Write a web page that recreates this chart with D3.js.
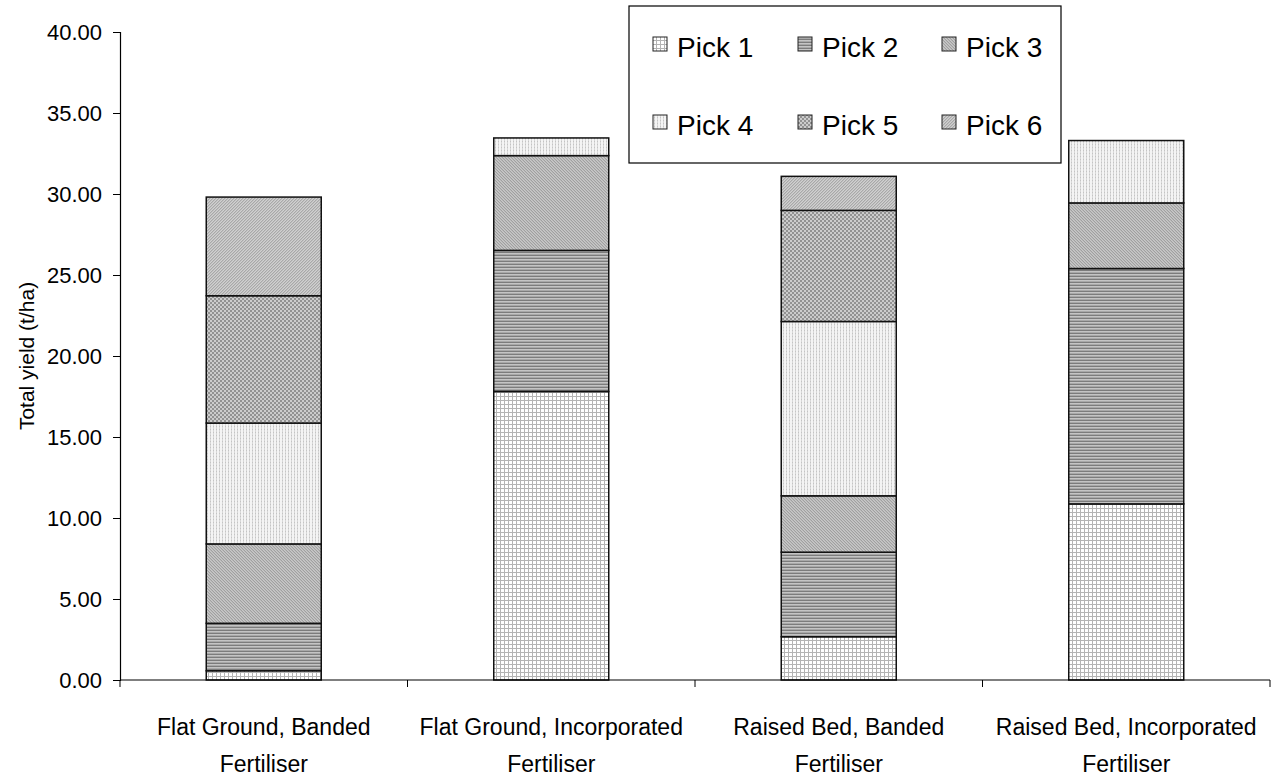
<!DOCTYPE html>
<html>
<head>
<meta charset="utf-8">
<script src="https://cdn.jsdelivr.net/npm/d3@7"></script>
<style>
  body { margin: 0; background: #fff; }
  svg { display: block; }
  text { font-family: "Liberation Sans", Arial, sans-serif; fill: #000; }
</style>
</head>
<body>
<svg id="chart" width="1275" height="776"></svg>
<script>
const categories = [
  ["Flat Ground, Banded", "Fertiliser"],
  ["Flat Ground, Incorporated", "Fertiliser"],
  ["Raised Bed, Banded", "Fertiliser"],
  ["Raised Bed, Incorporated", "Fertiliser"]
];
const seriesNames = ["Pick 1", "Pick 2", "Pick 3", "Pick 4", "Pick 5", "Pick 6"];
const pick1 = [0.57, 17.81, 2.67, 10.87];
const pick2 = [2.93, 8.71, 5.22, 14.53];
const pick3 = [4.90, 5.85, 3.48, 4.05];
const pick4 = [7.46, 1.09, 10.76, 3.85];
const pick5 = [7.86, 0, 6.86, 0];
const pick6 = [6.09, 0, 2.10, 0];
const yTicks = [0, 5, 10, 15, 20, 25, 30, 35, 40];
const yTitle = "Total yield (t/ha)";

const seriesValues = [pick1, pick2, pick3, pick4, pick5, pick6];
const catKeys = categories.map(c => c.join(" "));
const rows = catKeys.map((k, i) => {
  const r = { key: k };
  seriesNames.forEach((s, j) => r[s] = seriesValues[j][i]);
  return r;
});

const svg = d3.select("#chart");
const defs = svg.append("defs");

function pat(id, w, h, bg, draw) {
  const p = defs.append("pattern").attr("id", id).attr("patternUnits", "userSpaceOnUse")
    .attr("width", w).attr("height", h);
  p.append("rect").attr("width", w).attr("height", h).attr("fill", bg);
  draw(p);
}
function px(p, pts, c) {
  pts.forEach(([a, b]) => p.append("rect").attr("x", a).attr("y", b).attr("width", 1).attr("height", 1).attr("fill", c));
}
// Pick 1: fine grid
pat("p0", 4, 4, "#ffffff", p => {
  p.append("rect").attr("x", 0).attr("y", 0).attr("width", 4).attr("height", 1).attr("fill", "#b4b4b4");
  p.append("rect").attr("x", 0).attr("y", 0).attr("width", 1).attr("height", 4).attr("fill", "#b4b4b4");
});
// Pick 2: horizontal lines
pat("p1", 4, 3, "#c4c4c4", p => {
  p.append("rect").attr("x", 0).attr("y", 0).attr("width", 4).attr("height", 1).attr("fill", "#7c7c7c");
  p.append("rect").attr("x", 0).attr("y", 2).attr("width", 4).attr("height", 1).attr("fill", "#a8a8a8");
});
// Pick 3: fine diagonal texture
pat("p2", 3, 3, "#c8c8c8", p => {
  px(p, [[0,0],[1,1],[2,2]], "#a0a0a0");
  px(p, [[2,0],[0,1],[1,2]], "#bababa");
});
// Pick 4: light dotted
pat("p3", 3, 3, "#f4f4f4", p => {
  p.append("rect").attr("x", 0).attr("y", 0).attr("width", 1).attr("height", 3).attr("fill", "#d8d8d8");
  p.append("rect").attr("x", 0).attr("y", 0).attr("width", 1).attr("height", 1).attr("fill", "#c4c4c4");
});
// Pick 5: checker
pat("p4", 4, 4, "#cccccc", p => {
  p.append("rect").attr("x", 0).attr("y", 0).attr("width", 2).attr("height", 2).attr("fill", "#929292");
  p.append("rect").attr("x", 2).attr("y", 2).attr("width", 2).attr("height", 2).attr("fill", "#929292");
});
// Pick 6: diagonal
pat("p5", 3, 3, "#d0d0d0", p => {
  px(p, [[2,0],[1,1],[0,2]], "#a8a8a8");
  px(p, [[0,0],[2,1],[1,2]], "#c0c0c0");
});

const mLeft = 120, mRight = 1270, mTop = 32, mBottom = 680;
const y = d3.scaleLinear().domain([0, 40]).range([mBottom, mTop]);
const x = d3.scaleBand().domain(catKeys).range([mLeft, mRight]).paddingInner(0.6).paddingOuter(0.3);
const xb = d3.scaleBand().domain(catKeys).range([mLeft, mRight]).padding(0);

// Bars
const stack = d3.stack().keys(seriesNames)(rows);
const g = svg.append("g");
stack.forEach((layer, j) => {
  g.selectAll(null).data(layer.filter(d => d[1] - d[0] > 0)).enter().append("rect")
    .attr("x", d => x(d.data.key))
    .attr("width", x.bandwidth())
    .attr("y", d => y(d[1]))
    .attr("height", d => y(d[0]) - y(d[1]))
    .attr("fill", `url(#p${j})`)
    .attr("stroke", "#111")
    .attr("stroke-width", 1.5);
});

// Y axis
const yAxis = svg.append("g").attr("transform", `translate(${mLeft},0)`)
  .call(d3.axisLeft(y).tickValues(yTicks).tickFormat(d3.format(".2f")).tickSize(7).tickPadding(11));
yAxis.select(".domain").attr("stroke", "#000").attr("stroke-width", 1.2);
yAxis.selectAll(".tick line").attr("stroke", "#000");
yAxis.selectAll("text").attr("font-size", 22).attr("font-family", "Liberation Sans, Arial, sans-serif");

// X axis line and boundary ticks
const xg = svg.append("g");
xg.append("line").attr("x1", mLeft).attr("x2", mRight).attr("y1", mBottom).attr("y2", mBottom)
  .attr("stroke", "#000").attr("stroke-width", 1.2);
const bounds = catKeys.map(k => xb(k)).concat([mRight]);
xg.selectAll(null).data(bounds).enter().append("line")
  .attr("x1", d => d).attr("x2", d => d).attr("y1", mBottom).attr("y2", mBottom + 7)
  .attr("stroke", "#000");
categories.forEach((lines, i) => {
  const cx = xb(catKeys[i]) + xb.bandwidth() / 2;
  const t = xg.append("text").attr("text-anchor", "middle").attr("font-size", 23);
  lines.forEach((ln, li) => {
    t.append("tspan").attr("x", cx).attr("y", 735 + li * 37).text(ln);
  });
});

// Y title
svg.append("text").attr("transform", `translate(34,${(mTop + mBottom) / 2}) rotate(-90)`)
  .attr("text-anchor", "middle").attr("font-size", 21).text(yTitle);

// Legend
const lg = svg.append("g");
lg.append("rect").attr("x", 629).attr("y", 6).attr("width", 432).attr("height", 157)
  .attr("fill", "#fff").attr("stroke", "#000").attr("stroke-width", 1.2);
const colX = [653, 798, 942], rowY = [37, 115];
seriesNames.forEach((s, i) => {
  const cx = colX[i % 3], cy = rowY[Math.floor(i / 3)];
  lg.append("rect").attr("x", cx).attr("y", cy).attr("width", 14).attr("height", 14)
    .attr("fill", `url(#p${i})`).attr("stroke", "#222").attr("stroke-width", 1);
  lg.append("text").attr("x", cx + 24).attr("y", cy + 20).attr("font-size", 28).text(s);
});
</script>
</body>
</html>
